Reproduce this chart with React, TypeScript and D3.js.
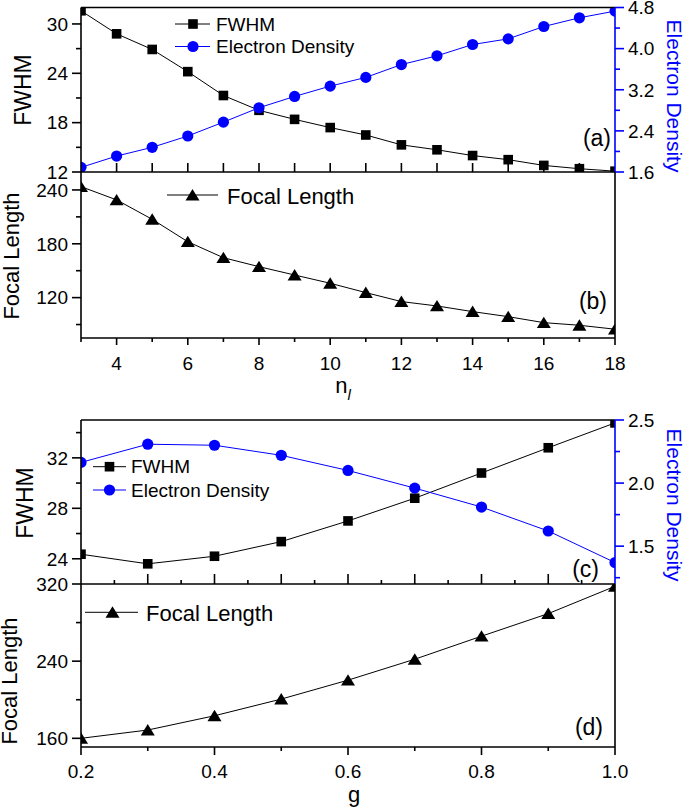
import React from 'react';
import * as d3 from 'd3';

// ---------- data ----------
const nl = [3, 4, 5, 6, 7, 8, 9, 10, 11, 12, 13, 14, 15, 16, 17, 18];
const fwhmA = [31.6, 28.8, 26.9, 24.2, 21.3, 19.5, 18.4, 17.4, 16.5, 15.3, 14.7, 14.0, 13.5, 12.8, 12.4, 12.1];
const densA = [1.69, 1.91, 2.08, 2.30, 2.57, 2.85, 3.07, 3.27, 3.44, 3.69, 3.86, 4.08, 4.19, 4.43, 4.60, 4.73];
const focalB = [243.7, 228.9, 207.3, 182.3, 164.5, 154.5, 145.2, 136.0, 125.6, 115.6, 110.7, 104.4, 98.8, 92.1, 89.2, 84.8];

const gVals = [0.2, 0.3, 0.4, 0.5, 0.6, 0.7, 0.8, 0.9, 1.0];
const fwhmC = [24.36, 23.6, 24.2, 25.36, 27.0, 28.8, 30.8, 32.8, 34.77];
const densC = [2.164, 2.308, 2.30, 2.22, 2.10, 1.96, 1.81, 1.62, 1.37];
const focalD = [160, 168.6, 183.4, 200.7, 220.3, 242, 265.9, 289.3, 317.6];

// tick values
const ticksAL = [12, 18, 24, 30];
const minorAL = [15, 21, 27];
const ticksAR = [1.6, 2.4, 3.2, 4.0, 4.8];
const minorAR = [2.0, 2.8, 3.6, 4.4];
const ticksBL = [120, 180, 240];
const minorBL = [90, 150, 210];
const ticksBX = [4, 6, 8, 10, 12, 14, 16, 18];
const minorBX = [3, 5, 7, 9, 11, 13, 15, 17];
const ticksCL = [24, 28, 32];
const minorCL = [26, 30, 34];
const ticksCR = [1.5, 2.0, 2.5];
const minorCR = [1.25, 1.75, 2.25];
const ticksDL = [160, 240, 320];
const minorDL = [200, 280];
const ticksDX = [0.2, 0.4, 0.6, 0.8, 1.0];
const minorDX = [0.3, 0.5, 0.7, 0.9];
const ticksCX = [0.2, 0.3, 0.4, 0.5, 0.6, 0.7, 0.8, 0.9, 1.0];
const minorCX = [0.25, 0.35, 0.45, 0.55, 0.65, 0.75, 0.85, 0.95];

const FONT = '"Liberation Sans", Arial, Helvetica, sans-serif';
const BLUE = '#0000ff';
const L = 81, R = 615;
const AT = 7.5, AB = 172, BB = 338;
const CT = 420, CB = 584, DB = 747;
const TFS = 19;

const xA = d3.scaleLinear().domain([3, 18]).range([L, R]);
const yA = d3.scaleLinear().domain([12, 32]).range([AB, AT]);
const yA2 = d3.scaleLinear().domain([1.6, 4.8]).range([AB, AT]);
const yB = d3.scaleLinear().domain([75, 260]).range([BB, AB]);
const xC = d3.scaleLinear().domain([0.2, 1.0]).range([L, R]);
const yC = d3.scaleLinear().domain([22, 35]).range([CB, CT]);
const yC2 = d3.scaleLinear().domain([1.2, 2.5]).range([CB, CT]);
const yD = d3.scaleLinear().domain([151, 320]).range([DB, CB]);

function triPath(cx: number, cy: number) {
  return `M${cx},${cy - 6}L${cx + 7},${cy + 5.4}L${cx - 7},${cy + 5.4}Z`;
}

function YTicks({ scale, x, side, major, minor, color, fmt }: any) {
  const dir = side === 'left' ? -1 : 1;
  return (
    <g>
      {major.map((v: number) => (
        <g key={'M' + v}>
          <line x1={x} x2={x + dir * 9} y1={scale(v)} y2={scale(v)} stroke={color} strokeWidth={1.6} />
          <text x={x + dir * 13} y={scale(v)} dy="0.36em" fontSize={TFS} fill="#000"
            textAnchor={side === 'left' ? 'end' : 'start'} fontFamily={FONT}>{fmt(v)}</text>
        </g>
      ))}
      {minor.map((v: number) => (
        <line key={'m' + v} x1={x} x2={x + dir * 5} y1={scale(v)} y2={scale(v)} stroke={color} strokeWidth={1.6} />
      ))}
    </g>
  );
}

function XTicks({ scale, y, dir, major, minor, majLen, minLen, labels, fmt, labelY }: any) {
  return (
    <g>
      {major.map((v: number) => (
        <g key={'M' + v}>
          <line x1={scale(v)} x2={scale(v)} y1={y} y2={y + dir * majLen} stroke="#000" strokeWidth={1.6} />
          {labels && (
            <text x={scale(v)} y={labelY} fontSize={TFS} textAnchor="middle" fontFamily={FONT}>{fmt(v)}</text>
          )}
        </g>
      ))}
      {minor.map((v: number) => (
        <line key={'m' + v} x1={scale(v)} x2={scale(v)} y1={y} y2={y + dir * minLen} stroke="#000" strokeWidth={1.6} />
      ))}
    </g>
  );
}

function Series({ xs, ys, xs_, ys_, color, marker }: any) {
  const line = d3.line<number>().x((_, i) => xs_(xs[i])).y((d) => ys_(d));
  return (
    <g>
      <path d={line(ys) || ''} fill="none" stroke={color} strokeWidth={1} />
      {ys.map((v: number, i: number) => {
        const cx = xs_(xs[i]), cy = ys_(v);
        if (marker === 'square') return <rect key={i} x={cx - 4.8} y={cy - 4.8} width={9.6} height={9.6} fill={color} />;
        if (marker === 'circle') return <circle key={i} cx={cx} cy={cy} r={5.6} fill={color} />;
        return <path key={i} d={triPath(cx, cy)} fill={color} />;
      })}
    </g>
  );
}

export default function App() {
  const f0 = (v: number) => String(v);
  const f1 = (v: number) => v.toFixed(1);
  return (
    <svg width={685} height={810} style={{ position: 'absolute', left: 0, top: 0, background: '#fff' }}
      fontFamily={FONT}>
      <defs>
        <clipPath id="cA"><rect x={L} y={AT} width={R - L} height={AB - AT} /></clipPath>
        <clipPath id="cB"><rect x={L} y={AB} width={R - L} height={BB - AB} /></clipPath>
        <clipPath id="cC"><rect x={L} y={CT} width={R - L} height={CB - CT} /></clipPath>
        <clipPath id="cD"><rect x={L} y={CB} width={R - L} height={DB - CB} /></clipPath>
      </defs>
      <rect x={0} y={0} width={685} height={810} fill="#fff" />

      {/* ===== Panel (a) ===== */}
      <g clipPath="url(#cA)">
        <Series xs={nl} ys={fwhmA} xs_={xA} ys_={yA} color="#000" marker="square" />
        <Series xs={nl} ys={densA} xs_={xA} ys_={yA2} color={BLUE} marker="circle" />
      </g>
      <XTicks scale={xA} y={AB} dir={-1} major={nl.slice(1, -1)} minor={[]} majLen={9} minLen={0} />
      <YTicks scale={yA} x={L} side="left" major={ticksAL} minor={minorAL} color="#000" fmt={f0} />
      <YTicks scale={yA2} x={R} side="right" major={ticksAR} minor={minorAR} color={BLUE} fmt={f1} />
      <line x1={L} x2={R} y1={AT} y2={AT} stroke="#000" strokeWidth={1.6} />
      <line x1={L} x2={L} y1={AT} y2={AB} stroke="#000" strokeWidth={1.6} />
      <line x1={R} x2={R} y1={AT} y2={AB} stroke={BLUE} strokeWidth={1.6} />
      {/* legend a */}
      <line x1={175} x2={210} y1={24} y2={24} stroke="#000" strokeWidth={1} />
      <rect x={193 - 4.8} y={24 - 4.8} width={9.6} height={9.6} fill="#000" />
      <text x={216} y={30.5} fontSize={19}>FWHM</text>
      <line x1={175} x2={210} y1={46.5} y2={46.5} stroke={BLUE} strokeWidth={1} />
      <circle cx={193} cy={46.5} r={5.6} fill={BLUE} />
      <text x={216} y={53} fontSize={19}>Electron Density</text>
      <text x={611} y={146} fontSize={23} textAnchor="end">(a)</text>
      <text transform={`translate(31,90) rotate(-90)`} fontSize={23} textAnchor="middle">FWHM</text>
      <text transform={`translate(667,96) rotate(90)`} fontSize={21} textAnchor="middle" fill={BLUE}>Electron Density</text>

      {/* ===== Panel (b) ===== */}
      <g clipPath="url(#cB)">
        <Series xs={nl} ys={focalB} xs_={xA} ys_={yB} color="#000" marker="tri" />
      </g>
      <YTicks scale={yB} x={L} side="left" major={ticksBL} minor={minorBL} color="#000" fmt={f0} />
      <XTicks scale={xA} y={BB} dir={1} major={ticksBX} minor={minorBX} majLen={7} minLen={4} labels fmt={f0} labelY={370} />
      <line x1={L} x2={R} y1={AB} y2={AB} stroke="#000" strokeWidth={1.6} />
      <line x1={L} x2={R} y1={BB} y2={BB} stroke="#000" strokeWidth={1.6} />
      <line x1={L} x2={L} y1={AB} y2={BB} stroke="#000" strokeWidth={1.6} />
      <line x1={R} x2={R} y1={AB} y2={BB} stroke="#000" strokeWidth={1.6} />
      <line x1={167} x2={218} y1={195} y2={195} stroke="#000" strokeWidth={1} />
      <path d={triPath(192.5, 195)} fill="#000" />
      <text x={227} y={203.5} fontSize={22}>Focal Length</text>
      <text x={607} y={309} fontSize={23} textAnchor="end">(b)</text>
      <text transform={`translate(18.5,256) rotate(-90)`} fontSize={22} textAnchor="middle">Focal Length</text>
      <text x={343} y={393} fontSize={22} textAnchor="middle">n<tspan fontSize={15} fontStyle="italic" dy={7}>l</tspan></text>

      {/* ===== Panel (c) ===== */}
      <g clipPath="url(#cC)">
        <Series xs={gVals} ys={fwhmC} xs_={xC} ys_={yC} color="#000" marker="square" />
        <Series xs={gVals} ys={densC} xs_={xC} ys_={yC2} color={BLUE} marker="circle" />
      </g>
      <XTicks scale={xC} y={CB} dir={-1} major={ticksCX.slice(1, -1)} minor={minorCX} majLen={10} minLen={4} />
      <YTicks scale={yC} x={L} side="left" major={ticksCL} minor={minorCL} color="#000" fmt={f0} />
      <YTicks scale={yC2} x={R} side="right" major={ticksCR} minor={minorCR} color={BLUE} fmt={f1} />
      <line x1={L} x2={R} y1={CT} y2={CT} stroke="#000" strokeWidth={1.6} />
      <line x1={L} x2={L} y1={CT} y2={CB} stroke="#000" strokeWidth={1.6} />
      <line x1={R} x2={R} y1={CT} y2={CB} stroke={BLUE} strokeWidth={1.6} />
      <line x1={93} x2={126} y1={466.7} y2={466.7} stroke="#000" strokeWidth={1} />
      <rect x={109.5 - 4.8} y={466.7 - 4.8} width={9.6} height={9.6} fill="#000" />
      <text x={131} y={473} fontSize={19}>FWHM</text>
      <line x1={93} x2={126} y1={490} y2={490} stroke={BLUE} strokeWidth={1} />
      <circle cx={109.5} cy={490} r={5.6} fill={BLUE} />
      <text x={131} y={496.5} fontSize={19}>Electron Density</text>
      <text x={599} y={577} fontSize={23} textAnchor="end">(c)</text>
      <text transform={`translate(33,503) rotate(-90)`} fontSize={23} textAnchor="middle">FWHM</text>
      <text transform={`translate(667,505) rotate(90)`} fontSize={21} textAnchor="middle" fill={BLUE}>Electron Density</text>

      {/* ===== Panel (d) ===== */}
      <g clipPath="url(#cD)">
        <Series xs={gVals} ys={focalD} xs_={xC} ys_={yD} color="#000" marker="tri" />
      </g>
      <YTicks scale={yD} x={L} side="left" major={ticksDL} minor={minorDL} color="#000" fmt={f0} />
      <XTicks scale={xC} y={DB} dir={1} major={ticksDX} minor={minorDX} majLen={8} minLen={4} labels fmt={f1} labelY={778} />
      <line x1={L} x2={R} y1={CB} y2={CB} stroke="#000" strokeWidth={1.6} />
      <line x1={L} x2={R} y1={DB} y2={DB} stroke="#000" strokeWidth={1.6} />
      <line x1={L} x2={L} y1={CB} y2={DB} stroke="#000" strokeWidth={1.6} />
      <line x1={R} x2={R} y1={CB} y2={DB} stroke="#000" strokeWidth={1.6} />
      <line x1={85} x2={138} y1={612.3} y2={612.3} stroke="#000" strokeWidth={1} />
      <path d={triPath(112.5, 612.3)} fill="#000" />
      <text x={146} y={620.5} fontSize={22}>Focal Length</text>
      <text x={603} y={735} fontSize={23} textAnchor="end">(d)</text>
      <text transform={`translate(17,681) rotate(-90)`} fontSize={22} textAnchor="middle">Focal Length</text>
      <text x={354} y={802} fontSize={22} textAnchor="middle">g</text>
    </svg>
  );
}
